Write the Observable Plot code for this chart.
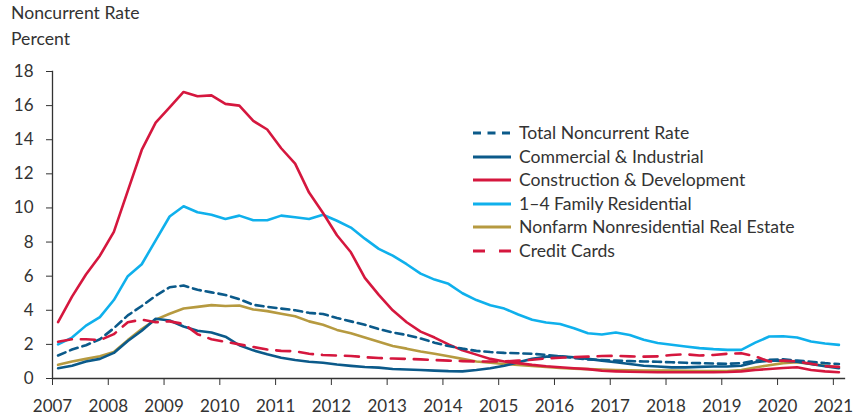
<!DOCTYPE html>
<html>
<head>
<meta charset="utf-8">
<script src="https://cdn.jsdelivr.net/npm/d3@7"></script>
<script src="https://cdn.jsdelivr.net/npm/@observablehq/plot@0.6"></script>
<style>
  html, body { margin: 0; padding: 0; background: #fff; }
  #wrap { position: relative; width: 856px; height: 420px; font-family: Lato, "Noto Sans", sans-serif; color: #333; }
  .ttl { position: absolute; left: 11px; font-size: 17.6px; line-height: 20px; white-space: nowrap; }
  #chart { position: absolute; left: 0; top: 56px; }
  .leg { position: absolute; left: 473px; font-size: 17.6px; line-height: 20px; white-space: nowrap; display: flex; align-items: center; }
  .leg svg { margin-right: 7px; }
</style>
</head>
<body>
<div id="wrap">
  <div class="ttl" style="top:3px">Noncurrent Rate</div>
  <div class="ttl" style="top:29px">Percent</div>
  <div id="chart"></div>
</div>
<script>
// Quarterly observations, 2007Q1 .. 2021Q1
const years = [2007,2008,2009,2010,2011,2012,2013,2014,2015,2016,2017,2018,2019,2020,2021];
const yTicks = [0,2,4,6,8,10,12,14,16,18];

const seriesNames = [
  "Total Noncurrent Rate",
  "Commercial & Industrial",
  "Construction & Development",
  "1–4 Family Residential",
  "Nonfarm Nonresidential Real Estate",
  "Credit Cards"
];

const totalRate = [1.35,1.7,1.95,2.3,2.95,3.7,4.25,4.85,5.35,5.45,5.2,5.05,4.9,4.65,4.32,4.2,4.1,4.0,3.85,3.78,3.55,3.35,3.15,2.9,2.7,2.55,2.35,2.1,1.9,1.75,1.62,1.55,1.5,1.48,1.45,1.38,1.3,1.2,1.12,1.08,1.05,1.02,1.0,0.98,0.95,0.92,0.9,0.88,0.86,0.9,1.05,1.1,1.12,1.05,0.98,0.9,0.85];
const commercialIndustrial = [0.6,0.75,1.0,1.15,1.5,2.2,2.8,3.5,3.4,3.05,2.8,2.7,2.45,1.95,1.65,1.42,1.22,1.08,0.98,0.92,0.82,0.74,0.67,0.64,0.56,0.53,0.5,0.46,0.43,0.42,0.5,0.6,0.75,0.95,1.15,1.28,1.3,1.25,1.15,1.05,0.95,0.85,0.75,0.7,0.65,0.65,0.68,0.7,0.7,0.75,0.95,1.05,1.05,0.98,0.85,0.72,0.6];
const constructionDev = [3.3,4.8,6.1,7.2,8.6,11.0,13.4,15.0,15.9,16.8,16.55,16.6,16.1,16.0,15.1,14.6,13.5,12.6,10.9,9.7,8.4,7.4,5.9,4.9,4.0,3.3,2.75,2.4,2.0,1.65,1.4,1.15,1.0,0.9,0.8,0.72,0.66,0.6,0.55,0.45,0.42,0.4,0.38,0.37,0.37,0.37,0.37,0.37,0.38,0.42,0.5,0.56,0.62,0.66,0.5,0.42,0.37];
const familyResidential = [2.0,2.4,3.1,3.6,4.6,6.0,6.7,8.1,9.5,10.1,9.75,9.6,9.35,9.55,9.28,9.28,9.55,9.45,9.35,9.6,9.25,8.85,8.2,7.6,7.2,6.7,6.15,5.8,5.55,5.0,4.6,4.3,4.1,3.75,3.45,3.28,3.2,2.95,2.65,2.58,2.7,2.55,2.27,2.08,1.98,1.88,1.78,1.72,1.68,1.68,2.1,2.46,2.48,2.4,2.17,2.05,1.97];
const nonfarmNonres = [0.8,1.0,1.15,1.3,1.55,2.25,2.9,3.45,3.8,4.1,4.2,4.3,4.25,4.28,4.05,3.95,3.8,3.65,3.35,3.15,2.85,2.65,2.4,2.15,1.9,1.75,1.58,1.45,1.3,1.15,1.0,0.92,0.85,0.8,0.73,0.68,0.62,0.58,0.55,0.52,0.5,0.48,0.47,0.47,0.46,0.45,0.44,0.43,0.43,0.5,0.65,0.78,0.9,0.96,0.85,0.75,0.66];
const creditCards = [2.15,2.3,2.3,2.25,2.6,3.3,3.45,3.3,3.35,3.2,2.6,2.3,2.15,2.0,1.85,1.7,1.62,1.6,1.45,1.38,1.35,1.32,1.25,1.2,1.17,1.15,1.12,1.08,1.05,1.02,1.0,1.0,1.0,1.05,1.1,1.18,1.22,1.25,1.28,1.32,1.33,1.3,1.28,1.3,1.38,1.42,1.35,1.38,1.45,1.48,1.3,1.0,1.05,1.0,0.86,0.72,0.68];

const colors = ["#0b5a8a", "#0b5a8a", "#d5173e", "#0fb0ec", "#b69a40", "#d5173e"];
const dashes = ["8,5", null, null, null, null, "14,9"];
const values = [totalRate, commercialIndustrial, constructionDev, familyResidential, nonfarmNonres, creditCards];

// quarter positions (data placed slightly after each quarter's start)
const quarterTime = (i) => 2007 + 0.1 + i * 0.25;

function rows(arr) { return arr.map((v, i) => ({t: quarterTime(i), v})); }

const drawOrder = [3, 4, 1, 2, 0, 5];
const marks = [
  Plot.frame({anchor: "left", stroke: "#333", strokeWidth: 1.3}),
  Plot.frame({anchor: "bottom", stroke: "#333", strokeWidth: 1.3}),
  Plot.axisY({ticks: yTicks, tickSize: 6, tickPadding: 13, label: null, stroke: "#333"}),
  Plot.axisX({ticks: years, tickSize: 7, tickPadding: 14, tickFormat: d => String(d), label: null, stroke: "#333"})
];
for (const k of drawOrder) {
  marks.push(Plot.line(rows(values[k]), {
    x: "t", y: "v", stroke: colors[k], strokeWidth: 2.6,
    strokeDasharray: dashes[k] || undefined, curve: "linear"
  }));
}

const chart = Plot.plot({
  width: 856,
  height: 364,
  marginTop: 15,
  marginBottom: 42,
  marginLeft: 52,
  marginRight: 12,
  x: {domain: [2007, 2021.2]},
  y: {domain: [0, 18]},
  style: {fontFamily: "Lato, 'Noto Sans', sans-serif", fontSize: "17px", color: "#333", background: "#fff", overflow: "visible"},
  marks
});
document.getElementById("chart").appendChild(chart);

// Legend
const wrap = document.getElementById("wrap");
const legTops = [123, 146.5, 170, 193.5, 217, 240.5];
seriesNames.forEach((name, k) => {
  const d = document.createElement("div");
  d.className = "leg";
  d.style.top = legTops[k] + "px";
  d.style.left = "473px";
  const dash = dashes[k] ? (k === 0 ? "8,6.5" : "12,14") : "";
  d.innerHTML = `<svg width="39" height="6"><line x1="0" y1="3" x2="38" y2="3" stroke="${colors[k]}" stroke-width="3" ${dash ? `stroke-dasharray="${dash}"` : ""}/></svg><span>${name.replace("&", "&amp;")}</span>`;
  wrap.appendChild(d);
});
</script>
</body>
</html>
